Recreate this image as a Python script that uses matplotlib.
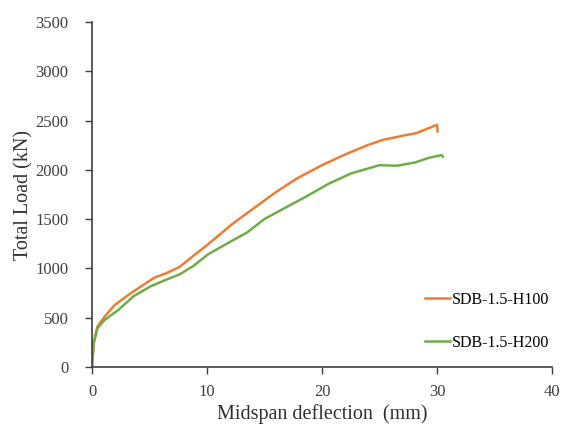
import matplotlib
matplotlib.use("Agg")
import matplotlib.pyplot as plt

# load-deflection readings (deflection in mm, load in kN)
h100_defl = [0, 0.15, 0.47, 1.1, 2.0, 3.4, 5.4, 6.4, 7.6, 8.8, 10.1, 12.2, 13.8, 16.0,
             17.8, 20.0, 21.9, 24.0, 25.3, 27.4, 28.2, 30.0, 30.05]
h100_load = [0, 250, 410, 512, 632, 751, 905, 949, 1014, 1127, 1246, 1451, 1588, 1775,
             1912, 2048, 2151, 2253, 2305, 2356, 2373, 2458, 2390]

h200_defl = [0, 0.15, 0.47, 1.1, 2.3, 3.6, 5.1, 6.5, 7.6, 8.8, 10.1, 11.9, 13.5, 15.0,
             16.9, 18.8, 20.6, 22.5, 24.0, 25.0, 26.5, 28.1, 29.3, 30.4, 30.5]
h200_load = [0, 240, 393, 478, 580, 717, 819, 888, 939, 1024, 1144, 1263, 1366, 1502,
             1622, 1741, 1861, 1963, 2014, 2048, 2042, 2076, 2123, 2151, 2135]

labels = ["SDB-1.5-H100", "SDB-1.5-H200"]
colors = ["#ED7D31", "#70AD47"]

plt.rcParams["font.family"] = ["Liberation Serif", "DejaVu Serif"]

fig = plt.figure(figsize=(5.61, 4.25), dpi=100)
ax = fig.add_axes([0.164, 0.1365, 0.82, 0.8115])

ax.plot(h100_defl, h100_load, color=colors[0], lw=1.8, label=labels[0])
ax.plot(h200_defl, h200_load, color=colors[1], lw=1.8, label=labels[1])

ax.set_xlim(0, 40)
ax.set_ylim(0, 3500)
ax.set_xticks(range(0, 41, 10))
ax.set_yticks(range(0, 3501, 500))
for side in ("top", "right"):
    ax.spines[side].set_visible(False)
for side in ("left", "bottom"):
    ax.spines[side].set_color("#404040")
    ax.spines[side].set_linewidth(1.2)
ax.tick_params(labelsize=12, colors="#404040", length=5, width=1.0)
ax.tick_params(axis="y", pad=12)
ax.tick_params(axis="x", pad=7)

ax.set_xlabel("Midspan deflection  (mm)", fontsize=14.5, color="#303030", labelpad=3)
ax.set_ylabel("Total Load (kN)", fontsize=14.5, color="#303030", labelpad=1)

ax.legend(loc="lower right", bbox_to_anchor=(1.025, 0.005), frameon=False, fontsize=11.5,
          handlelength=1.6, handletextpad=0.1, labelspacing=1.7)

fig.savefig("out.png", dpi=100)
